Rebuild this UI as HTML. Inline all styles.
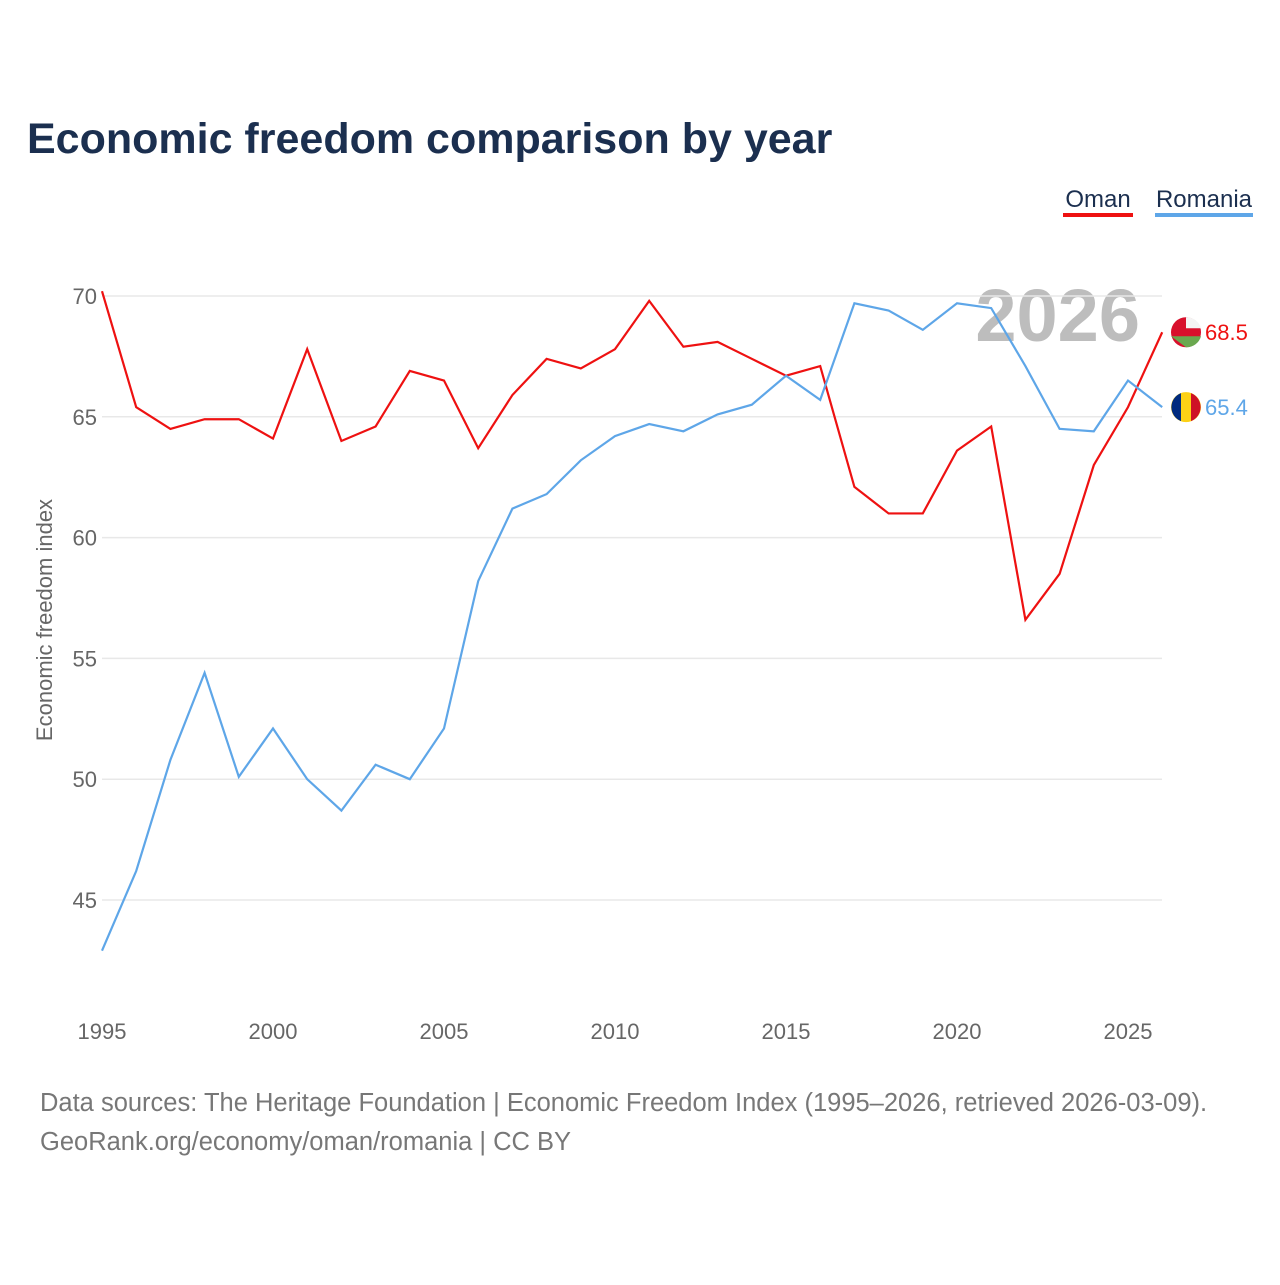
<!DOCTYPE html>
<html><head><meta charset="utf-8">
<style>
body{margin:0;background:#fff;width:1280px;height:1280px;overflow:hidden;font-family:"Liberation Sans",sans-serif;}
svg text{font-family:"Liberation Sans",sans-serif;}
</style></head>
<body>
<svg id="chart" width="1280" height="1280">
<text x="27" y="153" font-size="43" font-weight="bold" fill="#1b2f4f">Economic freedom comparison by year</text>
<g><text x="1098" y="207" font-size="24" fill="#1b2f4f" text-anchor="middle">Oman</text><rect x="1063" y="213" width="70" height="4" fill="#ee1111"/></g>
<g><text x="1204" y="207" font-size="24" fill="#1b2f4f" text-anchor="middle">Romania</text><rect x="1155" y="213" width="98" height="4" fill="#5ea6e8"/></g>
<text x="1140" y="341" font-size="74" font-weight="bold" fill="#bdbdbd" text-anchor="end">2026</text>
<text transform="translate(52,620) rotate(-90)" font-size="22" fill="#666" text-anchor="middle">Economic freedom index</text>
<g id="grid"></g><g id="lines"></g><g id="labels"></g>
<text x="40" y="1111" font-size="25.5" fill="#777">Data sources: The Heritage Foundation | Economic Freedom Index (1995–2026, retrieved 2026-03-09).</text>
<text x="40" y="1150" font-size="25.5" fill="#777">GeoRank.org/economy/oman/romania | CC BY</text>
</svg>
<script>
const years=[1995,1996,1997,1998,1999,2000,2001,2002,2003,2004,2005,2006,2007,2008,2009,2010,2011,2012,2013,2014,2015,2016,2017,2018,2019,2020,2021,2022,2023,2024,2025,2026];
const omanValues=[70.2,65.4,64.5,64.9,64.9,64.1,67.8,64.0,64.6,66.9,66.5,63.7,65.9,67.4,67.0,67.8,69.8,67.9,68.1,67.4,66.7,67.1,62.1,61.0,61.0,63.6,64.6,56.6,58.5,63.0,65.4,68.5];
const romaniaValues=[42.9,46.2,50.8,54.4,50.1,52.1,50.0,48.7,50.6,50.0,52.1,58.2,61.2,61.8,63.2,64.2,64.7,64.4,65.1,65.5,66.7,65.7,69.7,69.4,68.6,69.7,69.5,67.1,64.5,64.4,66.5,65.4];
const yTicks=[45,50,55,60,65,70];
const xTicks=[1995,2000,2005,2010,2015,2020,2025];
const NS="http://www.w3.org/2000/svg";
const x=v=>102+(v-1995)*(1026/30);
const y=v=>296+(70-v)*(604/25);
function mk(t,a,p){const e=document.createElementNS(NS,t);for(const k in a)e.setAttribute(k,a[k]);p.appendChild(e);return e;}
const grid=document.getElementById('grid');
yTicks.forEach(t=>{
  const l=mk('line',{x1:102,x2:1162,y1:y(t),y2:y(t),stroke:'#e8e8e8','stroke-width':1.5},grid);
  
  
  const tx=mk('text',{x:97,y:y(t)+8,'font-size':22,fill:'#666','text-anchor':'end'},grid);tx.textContent=t;
  
  
});
xTicks.forEach(t=>{
  const tx=mk('text',{x:x(t),y:1039,'font-size':22,fill:'#666','text-anchor':'middle'},grid);tx.textContent=t;
  
  
});
const lines=document.getElementById('lines');
function series(vals,col,name){
  const p=mk('polyline',{points:vals.map((v,i)=>x(years[i])+','+y(v)).join(' '),fill:'none',stroke:col,'stroke-width':2.2},lines);
  
  
}
series(omanValues,'#ee1111','oman');
series(romaniaValues,'#5ea6e8','romania');
const lab=document.getElementById('labels');
function endLabel(vals,col,name,flag){
  const v=vals[vals.length-1],cy=y(v);
  const g=mk('g',{},lab);
  
  
  if(flag==='oman'){
    mk('circle',{cx:1186,cy:cy,r:15,fill:'#d8102c'},g);
    mk('path',{d:`M1171 ${cy+4} H1201 A15 15 0 0 1 1186 ${cy+15} Z`,fill:'#6aa84f'},g);
    mk('path',{d:`M1186 ${cy-15} A15 15 0 0 1 1201 ${cy-4} H1186 Z`,fill:'#f4f4f4'},g);
  }else{
    mk('circle',{cx:1186,cy:cy,r:15,fill:'#fcd116'},g);
    mk('path',{d:`M1181 ${cy-14} A15 15 0 0 0 1181 ${cy+14} Z`,fill:'#002b7f'},g);
    mk('path',{d:`M1191 ${cy-14} A15 15 0 0 1 1191 ${cy+14} Z`,fill:'#ce1126'},g);
  }
  const t=mk('text',{x:1205,y:cy+8,'font-size':22,fill:col},g);t.textContent=v.toFixed(1);
}
endLabel(omanValues,'#ee1111','oman','oman');
endLabel(romaniaValues,'#5ea6e8','romania','romania');
</script>
</body></html>
